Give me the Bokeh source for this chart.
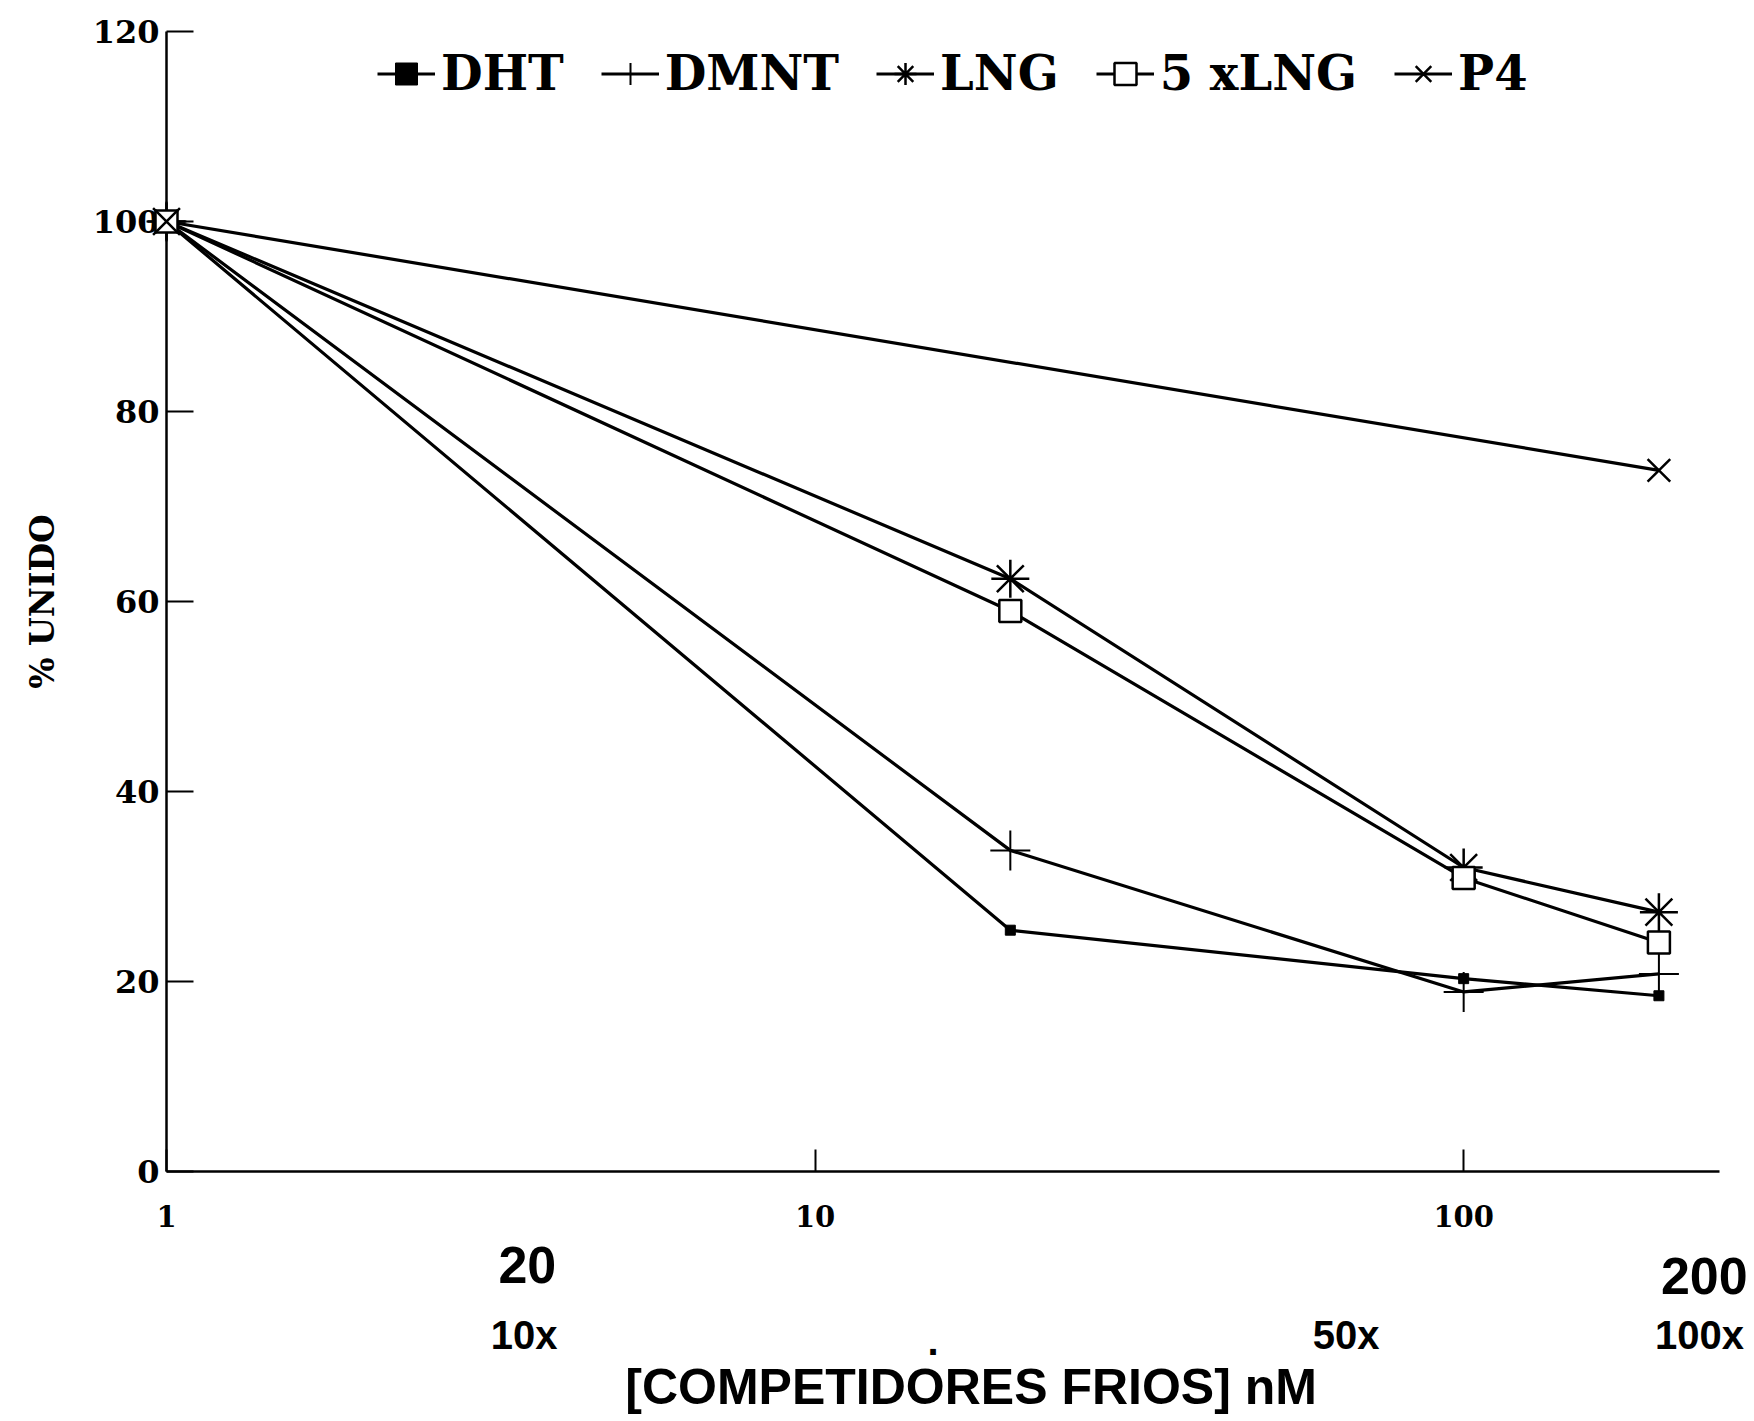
from bokeh.plotting import figure
from bokeh.models import Range1d, FixedTicker, NumeralTickFormatter, Legend, LegendItem
from bokeh.core.properties import value
from bokeh.embed import file_html
from bokeh.resources import INLINE

# ---- data ----
conc = [1, 20, 100, 200]
dht = [100, 25.4, 20.3, 18.5]
dmnt = [100, 33.8, 18.9, 20.8]
lng = [100, 62.4, 32.0, 27.3]
lng5x = [100, 59.0, 30.9, 24.1]
p4_conc = [1, 200]
p4 = [100, 73.8]

y_ticks = [0, 20, 40, 60, 80, 100, 120]
x_ticks = [1, 10, 100]

# texts written under the x axis (concentration / fold annotations)
dose_labels = ["20", "200"]
fold_labels = ["10x", "50x", "100x"]
x_title = "[COMPETIDORES FRIOS] nM"

p = figure(width=1754, height=1421, x_axis_type="log",
           x_range=Range1d(1, 248), y_range=Range1d(0, 120),
           output_backend="svg", toolbar_location=None,
           min_border_left=166, min_border_right=35,
           min_border_top=31, min_border_bottom=250)
p.outline_line_color = None
p.xgrid.visible = False
p.ygrid.visible = False

for ax in (p.xaxis[0], p.yaxis[0]):
    ax.axis_line_width = 2.5
    ax.axis_line_color = "black"
    ax.major_tick_line_width = 2
    ax.major_tick_line_color = "black"
    ax.minor_tick_line_color = None
    ax.major_tick_out = 0
    ax.major_label_text_font = "DejaVu Serif"
    ax.major_label_text_font_style = "bold"
    ax.major_label_text_color = "black"

p.yaxis.ticker = FixedTicker(ticks=y_ticks)
p.yaxis.major_tick_in = 27
p.yaxis.major_label_text_font_size = "32px"
p.yaxis.major_label_standoff = 7
p.yaxis.axis_label = "% UNIDO"
p.yaxis.axis_label_text_font = "DejaVu Serif"
p.yaxis.axis_label_text_font_style = "bold"
p.yaxis.axis_label_text_color = "black"
p.yaxis.axis_label_text_font_size = "33px"
p.yaxis.axis_label_standoff = 28

p.xaxis.ticker = FixedTicker(ticks=x_ticks)
p.xaxis.formatter = NumeralTickFormatter(format="0")
p.xaxis.major_tick_in = 22
p.xaxis.major_label_text_font_size = "29px"
p.xaxis.major_label_standoff = 33

LW = 3.2
r_dht_l = p.line(conc, dht, line_color="black", line_width=LW)
r_dht_m = p.scatter(conc, dht, marker="square", size=10, fill_color="black", line_color="black", level="overlay")
r_dmnt_l = p.line(conc, dmnt, line_color="black", line_width=LW)
r_dmnt_m = p.scatter(conc, dmnt, marker="cross", size=40, line_color="black", line_width=2, level="overlay")
r_lng_l = p.line(conc, lng, line_color="black", line_width=LW)
r_lng_m = p.scatter(conc, lng, marker="asterisk", size=38, line_color="black", line_width=2.5, level="overlay")
r_lng5_l = p.line(conc, lng5x, line_color="black", line_width=LW)
r_lng5_m = p.scatter(conc, lng5x, marker="square", size=22, fill_color="white", line_color="black", line_width=2.5, level="overlay")
r_p4_l = p.line(p4_conc, p4, line_color="black", line_width=LW)
r_p4_m = p.scatter(p4_conc, p4, marker="x", size=32, line_color="black", line_width=2.5, level="overlay")

legend = Legend(items=[
    LegendItem(label="DHT", renderers=[r_dht_l, r_dht_m]),
    LegendItem(label="DMNT", renderers=[r_dmnt_l, r_dmnt_m]),
    LegendItem(label="LNG", renderers=[r_lng_l, r_lng_m]),
    LegendItem(label="5 xLNG", renderers=[r_lng5_l, r_lng5_m]),
    LegendItem(label="P4", renderers=[r_p4_l, r_p4_m]),
], location=(211, 1070), orientation="horizontal",
   glyph_width=58, glyph_height=55, label_standoff=6, spacing=37,
   padding=0, margin=0, border_line_color=None, background_fill_alpha=0,
   label_text_font="DejaVu Serif", label_text_font_style="bold",
   label_text_font_size="48px", label_text_color="black")
p.add_layout(legend)

def note(xs, ys, texts, size):
    p.text(x=xs, y=ys, text=texts, text_font=value("Liberation Sans"),
           text_font_style="bold", text_font_size=size, text_align="center",
           text_baseline="middle", text_color="black", level="overlay")

note([3.6, 235], [-9.8, -11.0], dose_labels, "52px")
note([3.56, 65.9, 231], [-17.2, -17.2, -17.2], fold_labels, "40px")
note([15.2], [-17.8], ["."], "40px")
note([17.4], [-22.7], [x_title], "50px")

open("out.html", "w").write(file_html(p, INLINE))
